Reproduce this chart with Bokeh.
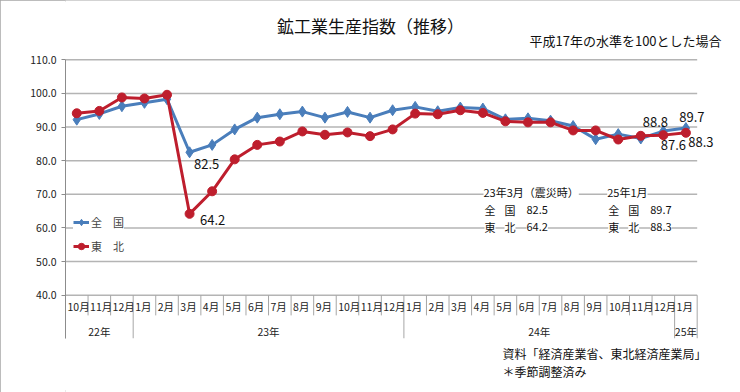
from bokeh.plotting import figure
from bokeh.models import Range1d, FixedTicker, PrintfTickFormatter, Legend, LegendItem, Label
from bokeh.core.properties import value
from bokeh.embed import file_html
from bokeh.resources import INLINE
import numpy as np

# ---------------- data ----------------
months = ["10月", "11月", "12月",
          "1月", "2月", "3月", "4月", "5月", "6月", "7月", "8月", "9月", "10月", "11月", "12月",
          "1月", "2月", "3月", "4月", "5月", "6月", "7月", "8月", "9月", "10月", "11月", "12月",
          "1月"]
years = ["22年"] * 3 + ["23年"] * 12 + ["24年"] * 12 + ["25年"] * 1

national = [92.2, 93.9, 96.2, 97.2, 98.3, 82.5, 84.7, 89.3, 92.8, 93.8, 94.6, 92.8, 94.5, 92.8,
            95.0, 96.0, 94.7, 95.8, 95.5, 92.3, 92.6, 91.9, 90.3, 86.4, 87.9, 86.6, 88.8, 89.7]
tohoku = [94.1, 94.8, 98.8, 98.5, 99.6, 64.2, 70.9, 80.4, 84.7, 85.7, 88.7, 87.7, 88.4, 87.3,
          89.3, 94.0, 93.8, 95.0, 94.2, 91.7, 91.4, 91.4, 89.0, 89.0, 86.3, 87.4, 87.6, 88.3]

series_names = ["全　国", "東　北"]
y_ticks = [40, 50, 60, 70, 80, 90, 100, 110]

quake_idx = 5                  # 23年3月（震災時）
latest_idx = len(months) - 1   # 25年1月
labelled_idx = [quake_idx, latest_idx - 1, latest_idx]

title_text = "鉱工業生産指数（推移）"
subtitle_text = "平成17年の水準を100とした場合"
source_text = "資料「経済産業省、東北経済産業局」"
note_text = "＊季節調整済み"

# ---------------- style / layout ----------------
FONT = "Noto Sans CJK JP"
BLUE = "#4A7EBB"
RED = "#BE1E2D"
GRID = "#b4b4b4"
SEP = "#a6a6a6"
TXT = "#111111"

W, H = 740, 392
FL = 65            # frame left (px)
PX_PER_X = 22.56   # px per category
PX_PER_Y = 3.363   # px per index point
Y110_PX = 59.3     # pixel row of 110.0

n = len(months)
xc = np.arange(n) + 0.5
bounds = np.arange(n + 1)

y_top = max(y_ticks) + Y110_PX / PX_PER_Y
y_bot = max(y_ticks) - (H - Y110_PX) / PX_PER_Y
x_end = (W - FL) / PX_PER_X

Y_BOTTOM = 27.2     # bottom of year row
MONTH_SEP_Y = 34.0  # bottom of month cells
MONTH_Y = 36.6
YEAR_Y = 29.2

p = figure(width=W, height=H, title=None,
           x_range=Range1d(0, x_end), y_range=Range1d(y_bot, y_top),
           x_axis_type=None, output_backend="svg", toolbar_location=None,
           min_border_left=FL, min_border_right=0, min_border_top=0, min_border_bottom=0)
p.outline_line_color = None
p.background_fill_color = "white"
p.border_fill_color = "white"
p.styles = {"outline": "2px solid #a6a6a6", "outline-offset": "-2px"}

p.xgrid.visible = False
p.ygrid.visible = False
p.yaxis.ticker = FixedTicker(ticks=y_ticks)
p.yaxis.bounds = (Y_BOTTOM, max(y_ticks))
p.yaxis.formatter = PrintfTickFormatter(format="%.1f")
p.yaxis.axis_line_color = "#8c8c8c"
p.yaxis.major_tick_line_color = "#8c8c8c"
p.yaxis.major_tick_out = 4
p.yaxis.major_tick_in = 0
p.yaxis.minor_tick_line_color = None
p.yaxis.major_label_text_font = FONT
p.yaxis.major_label_text_font_size = "10.5px"
p.yaxis.major_label_text_color = "#222222"
p.yaxis.major_label_standoff = 5

# horizontal gridlines across the category span
k = len(y_ticks)
p.segment(x0=[0] * k, y0=y_ticks, x1=[n] * k, y1=y_ticks, line_color=GRID, line_width=1.5)

# category separators below the plot
year_starts = [i for i in range(n) if i == 0 or years[i] != years[i - 1]] + [n]
long_b = [b for b in bounds if b in year_starts]
short_b = [b for b in bounds if b not in year_starts]
p.segment(x0=short_b, y0=[40] * len(short_b), x1=short_b, y1=[MONTH_SEP_Y] * len(short_b),
          line_color=SEP, line_width=1)
p.segment(x0=long_b, y0=[40] * len(long_b), x1=long_b, y1=[Y_BOTTOM] * len(long_b),
          line_color=SEP, line_width=1)

p.text(x=list(bounds[:-1]), y=[MONTH_Y] * n, text=months, x_offset=2,
       text_font=value(FONT), text_font_size="10.5px", text_color="#222222",
       text_align="left", text_baseline="middle")
yr_x = [(year_starts[j] + year_starts[j + 1]) / 2 for j in range(len(year_starts) - 1)]
yr_t = [years[year_starts[j]] for j in range(len(year_starts) - 1)]
p.text(x=yr_x, y=[YEAR_Y] * len(yr_x), text=yr_t,
       text_font=value(FONT), text_font_size="10.5px", text_color="#222222",
       text_align="center", text_baseline="middle")

# series
l1 = p.line(xc, national, line_color=BLUE, line_width=3)
s1 = p.scatter(xc, national, marker="diamond", size=11, fill_color=BLUE, line_color=BLUE)
l2 = p.line(xc, tohoku, line_color=RED, line_width=3)
s2 = p.scatter(xc, tohoku, marker="circle", size=9, fill_color=RED, line_color=RED)

# data labels
offsets_nat = {quake_idx: (17, 12), latest_idx - 1: (-8, -9), latest_idx: (6, -11)}
offsets_toh = {quake_idx: (23, 6), latest_idx - 1: (10, 10), latest_idx: (15, 9)}
for i in labelled_idx:
    for vals, offs in ((national, offsets_nat), (tohoku, offsets_toh)):
        dx, dy = offs[i]
        p.text(x=[xc[i]], y=[vals[i]], text=[f"{vals[i]:.1f}"], x_offset=dx, y_offset=dy,
               text_font=value(FONT), text_font_size="13px", text_color=TXT,
               text_align="center", text_baseline="middle")

legend = Legend(items=[LegendItem(label=series_names[0], renderers=[l1, s1]),
                       LegendItem(label=series_names[1], renderers=[l2, s2])],
                location=(8, H - 256))
legend.label_text_font = FONT
legend.label_text_font_size = "11px"
legend.glyph_width = 16
legend.glyph_height = 20
legend.label_height = 20
legend.spacing = 4
legend.padding = 3
legend.margin = 0
legend.label_standoff = 2
legend.border_line_color = None
legend.background_fill_color = "white"
legend.background_fill_alpha = 1
p.add_layout(legend)


# free texts (screen units relative to frame bottom-left)
def lab(text, px, py, size="11px", align="left", bg=None):
    kw = dict(background_fill_color=bg) if bg else {}
    p.add_layout(Label(x=px - FL, y=H - py, x_units="screen", y_units="screen", text=text,
                       text_font=FONT, text_font_size=size, text_color=TXT,
                       text_align=align, text_baseline="middle", **kw))


lab(title_text, 370, 25, size="17px", align="center")
lab(subtitle_text, 529, 40, size="13px")
lab(source_text, 502, 353, size="12px")
lab(note_text, 502, 371, size="12px")

# summary table
for col_x, idx, head in ((483, quake_idx, f"{years[quake_idx]}{months[quake_idx]}（震災時）"),
                         (606.7, latest_idx, f"{years[latest_idx]}{months[latest_idx]}")):
    lab(head, col_x, 191.5, bg="white")
    for row_y, vals, name in ((209, national, series_names[0]), (226, tohoku, series_names[1])):
        c1, c2 = name.split("　")
        lab(c1, col_x + 1, row_y, bg="white")
        lab(c2, col_x + 21, row_y, bg="white")
        lab(f"{vals[idx]:.1f}", col_x + 43, row_y, bg="white")

open("out.html", "w").write(file_html(p, INLINE))
